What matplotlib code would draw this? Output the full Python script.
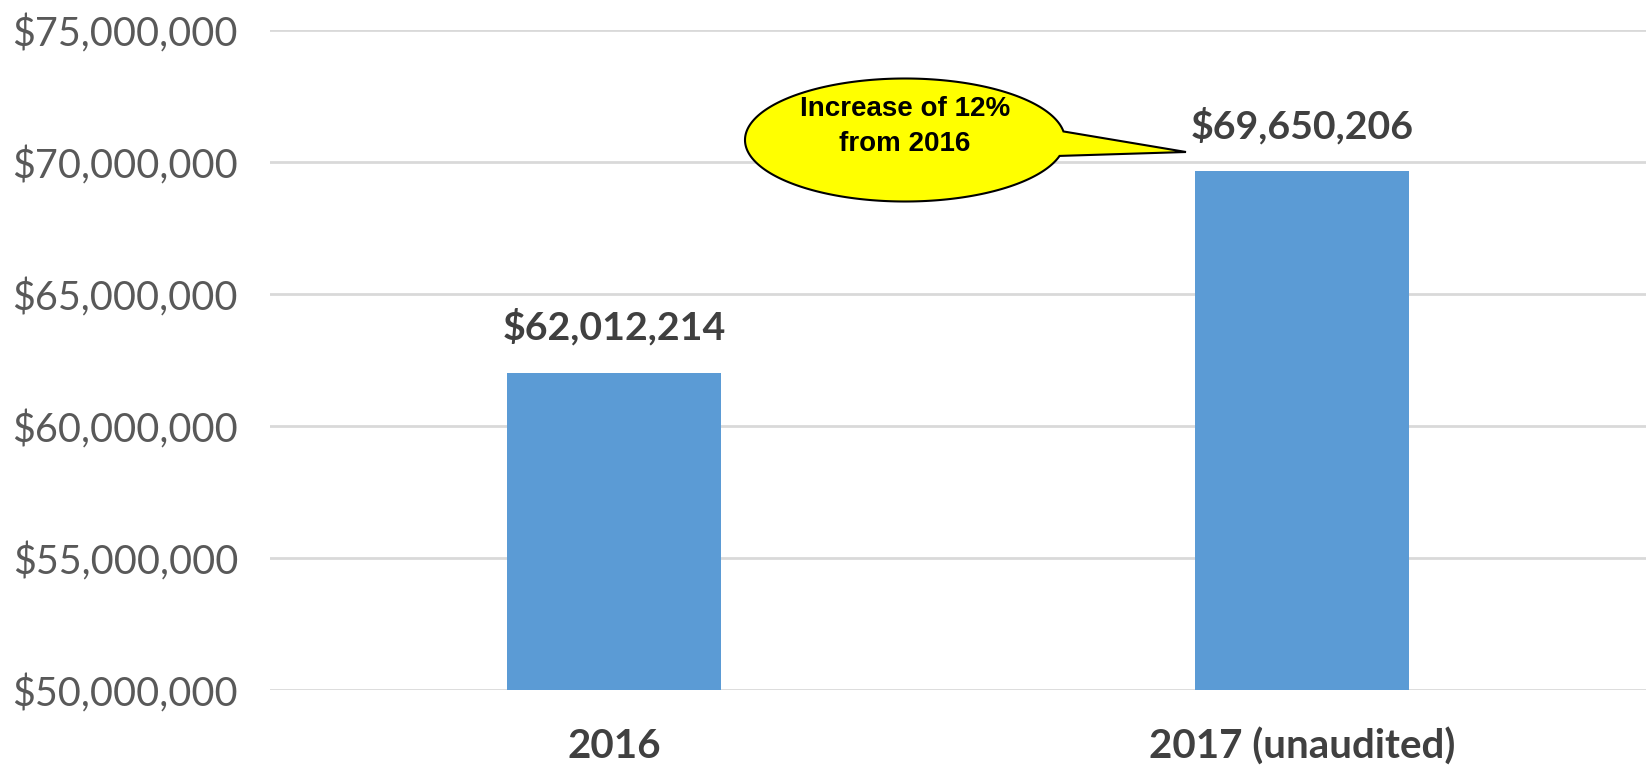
import matplotlib
matplotlib.use("Agg")
import matplotlib.pyplot as plt
from matplotlib.patches import Polygon
from matplotlib.ticker import FuncFormatter
import numpy as np

categories = ["2016", "2017 (unaudited)"]
values = [62012214, 69650206]
yticks = [50000000, 55000000, 60000000, 65000000, 70000000, 75000000]
callout_lines = ["Increase of 12%", "from 2016"]

W, H = 1646, 769
fig = plt.figure(figsize=(W / 100, H / 100), dpi=100)
ax = fig.add_axes([270 / W, 1 - 690 / H, (W - 270) / W, (690 - 30) / H])

x = np.arange(len(categories))
bars = ax.bar(x, values, width=0.31, color="#5B9BD5", zorder=3)
ax.set_xlim(-0.5, 1.5)
ax.set_ylim(yticks[0], yticks[-1])
ax.set_yticks(yticks)
ax.yaxis.set_major_formatter(FuncFormatter(lambda v, p: f"${v:,.0f}"))
ax.set_xticks(x)
ax.set_xticklabels(categories)
ax.grid(axis="y", color="#D9D9D9", linewidth=2, zorder=0)
for s in ax.spines.values():
    s.set_visible(False)
ax.tick_params(axis="both", length=0)
ax.tick_params(axis="y", pad=23, labelsize=28.5, labelcolor="#595959")
ax.tick_params(axis="x", pad=27, labelsize=29, labelcolor="#404040")
for lbl in ax.get_yticklabels():
    lbl.set_family("Lato")
for lbl in ax.get_xticklabels():
    lbl.set_family("Lato")
    lbl.set_fontweight("bold")

for xi, v in zip(x, values):
    ax.annotate(f"${v:,.0f}", (xi, v), xytext=(0, 33), textcoords="offset points",
                ha="center", va="center", fontsize=28.3, fontweight="bold",
                color="#404040", family="Lato")

# callout bubble in pixel coordinates
ov = fig.add_axes([0, 0, 1, 1])
ov.set_xlim(0, W)
ov.set_ylim(H, 0)
ov.axis("off")
cx, cy, a, b = 905, 140, 160, 61.5
t_up, t_lo = np.deg2rad(8), np.deg2rad(-15)
ts = np.linspace(t_up, t_lo + 2 * np.pi, 300)
pts = [(cx + a * np.cos(t), cy - b * np.sin(t)) for t in ts]
pts.append((1186, 152))
ov.add_patch(Polygon(pts, closed=True, facecolor="#FFFF00", edgecolor="black", linewidth=1.5))
ov.text(cx, 109, callout_lines[0], ha="center", va="center", fontsize=20,
        fontweight="bold", family=["Liberation Sans Narrow", "Liberation Sans"], color="black")
ov.text(cx, 144, callout_lines[1], ha="center", va="center", fontsize=20,
        fontweight="bold", family=["Liberation Sans Narrow", "Liberation Sans"], color="black")

fig.savefig("out.png", dpi=100)
